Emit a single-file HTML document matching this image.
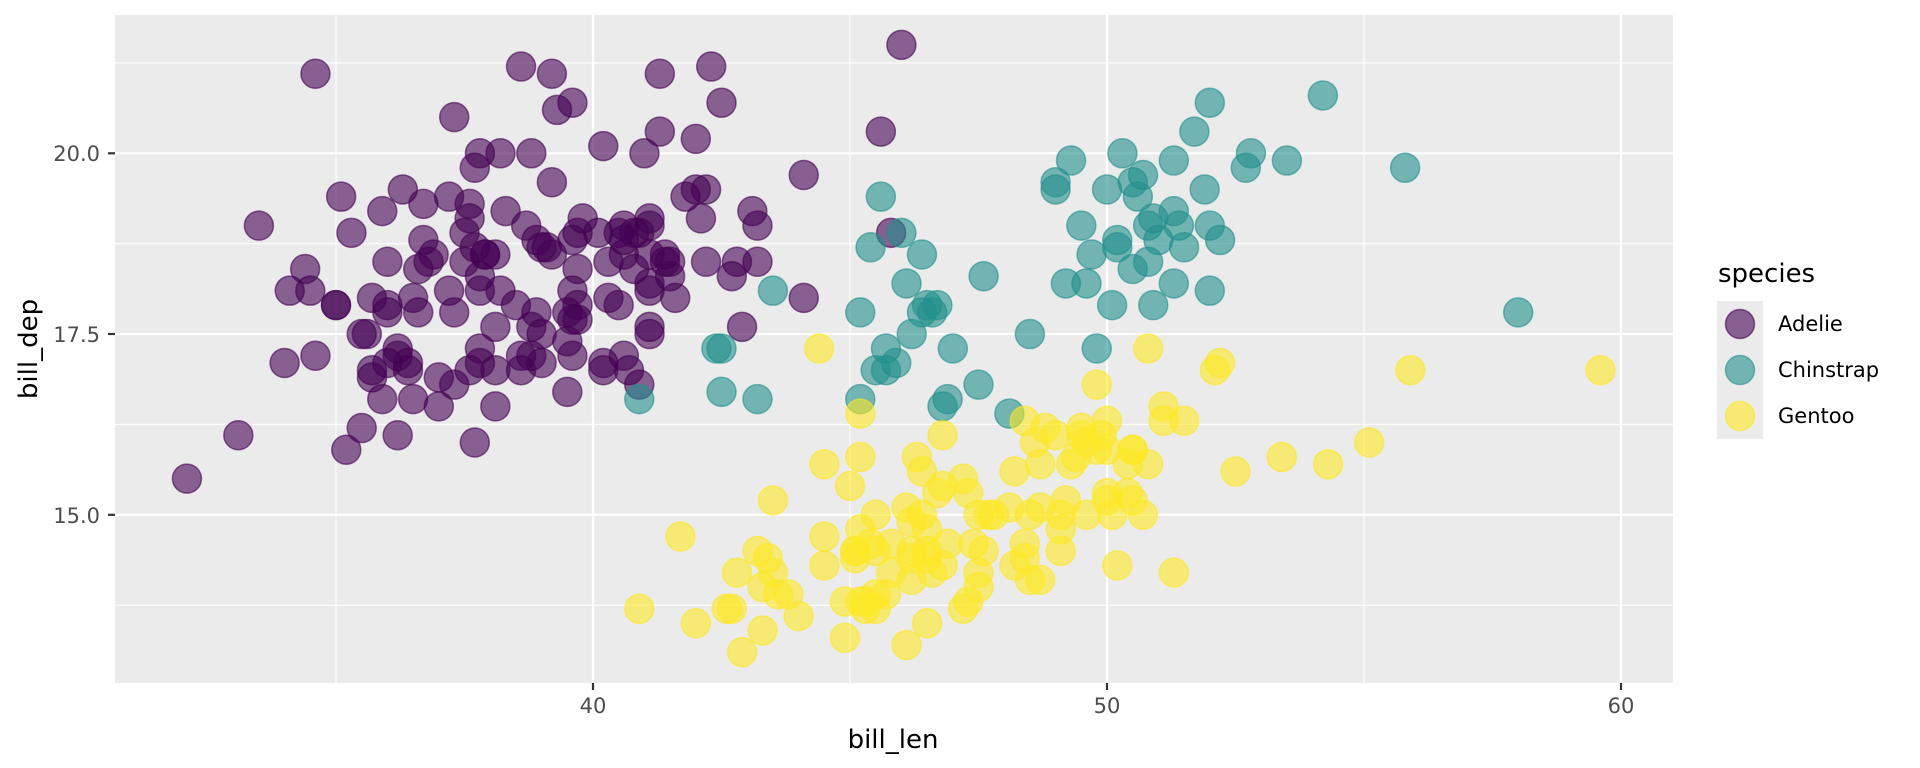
<!DOCTYPE html>
<html><head><meta charset="utf-8"><style>
html,body{margin:0;padding:0;background:#fff;}
svg{display:block;font-family:"DejaVu Sans","Liberation Sans",sans-serif;}
</style></head><body>
<svg id="s" width="1920" height="768" viewBox="0 0 1920 768" xmlns="http://www.w3.org/2000/svg">
<rect x="0" y="0" width="1920" height="768" fill="#fff"/>
<rect x="115" y="15" width="1558" height="668" fill="#ebebeb"/>
<g id="grid"></g>
<g id="pts"></g>
<g fill="#4d4d4d" font-size="21" text-anchor="end">
<text x="100" y="161">20.0</text>
<text x="100" y="342">17.5</text>
<text x="100" y="523">15.0</text>
</g>
<g stroke="#333" stroke-width="2.2">
<line x1="108" x2="115" y1="153.3" y2="153.3"/>
<line x1="108" x2="115" y1="334" y2="334"/>
<line x1="108" x2="115" y1="514.8" y2="514.8"/>
<line x1="593" x2="593" y1="683" y2="690"/>
<line x1="1107" x2="1107" y1="683" y2="690"/>
<line x1="1621" x2="1621" y1="683" y2="690"/>
</g>
<g fill="#4d4d4d" font-size="21" text-anchor="middle">
<text x="593" y="713">40</text>
<text x="1107" y="713">50</text>
<text x="1621" y="713">60</text>
</g>
<text x="893" y="748" font-size="26" text-anchor="middle" fill="#000">bill_len</text>
<text transform="translate(37,349) rotate(-90)" font-size="26" text-anchor="middle" fill="#000">bill_dep</text>
<text x="1718" y="282" font-size="26" fill="#000">species</text>
<rect x="1717" y="301" width="46" height="138" fill="#ebebeb"/>
<circle cx="1740" cy="324" r="14.5" fill="#440154" fill-opacity="0.6" stroke="#440154" stroke-opacity="0.6" stroke-width="1.5"/>
<circle cx="1740" cy="370" r="14.5" fill="#21908C" fill-opacity="0.6" stroke="#21908C" stroke-opacity="0.6" stroke-width="1.5"/>
<circle cx="1740" cy="416" r="14.5" fill="#FDE725" fill-opacity="0.6" stroke="#FDE725" stroke-opacity="0.6" stroke-width="1.5"/>
<g font-size="21" fill="#000">
<text x="1778" y="331">Adelie</text>
<text x="1778" y="377">Chinstrap</text>
<text x="1778" y="423">Gentoo</text>
</g>
</svg>
<script>
var NS="http://www.w3.org/2000/svg";
function px(x){return 593+(x-40)*51.4;}
function py(y){return 153.3-(y-20)*72.3;}
var g=document.getElementById("grid");
function line(x1,y1,x2,y2,w){var l=document.createElementNS(NS,"line");l.setAttribute("x1",x1);l.setAttribute("y1",y1);l.setAttribute("x2",x2);l.setAttribute("y2",y2);l.setAttribute("stroke","#fff");l.setAttribute("stroke-width",w);g.appendChild(l);}
[35,45,55].forEach(function(v){line(px(v),15,px(v),683,1.1);});
[13.75,16.25,18.75,21.25].forEach(function(v){line(115,py(v),1673,py(v),1.1);});
[40,50,60].forEach(function(v){line(px(v),15,px(v),683,2.2);});
[15,17.5,20].forEach(function(v){line(115,py(v),1673,py(v),2.2);});
var A="39.1 18.7 39.5 17.4 40.3 18.0 36.7 19.3 39.3 20.6 38.9 17.8 39.2 19.6 34.1 18.1 42.0 20.2 37.8 17.1 37.8 17.3 41.1 17.6 38.6 21.2 34.6 21.1 36.6 17.8 38.7 19.0 42.5 20.7 34.4 18.4 46.0 21.5 37.8 18.3 37.7 18.7 35.9 19.2 38.2 18.1 38.8 17.2 35.3 18.9 40.6 18.6 40.5 17.9 37.9 18.6 40.5 18.9 39.5 16.7 37.2 18.1 39.5 17.8 40.9 18.9 36.4 17.0 39.2 21.1 38.8 20.0 42.2 18.5 37.6 19.3 39.8 19.1 36.5 18.0 40.8 18.4 36.0 18.5 44.1 19.7 37.0 16.9 39.6 18.8 41.1 19.0 37.5 18.9 36.0 17.9 42.3 21.2 39.6 17.7 40.1 18.9 35.0 17.9 42.0 19.5 34.5 18.1 41.4 18.6 39.0 17.5 40.6 18.8 36.5 16.6 37.6 19.1 35.7 16.9 41.3 21.1 37.6 17.0 41.1 18.2 36.4 17.1 41.6 18.0 35.5 16.2 41.1 19.1 35.9 16.6 41.8 19.4 33.5 19.0 39.7 18.4 39.6 17.2 45.8 18.9 35.5 17.5 42.8 18.5 40.9 16.8 37.2 19.4 36.2 16.1 42.1 19.1 34.6 17.2 42.9 17.6 36.7 18.8 35.1 19.4 37.3 17.8 41.3 20.3 36.3 19.5 36.9 18.6 38.3 19.2 38.9 18.8 35.7 18.0 41.1 18.1 34.0 17.1 39.6 18.1 36.2 17.3 40.8 18.9 38.1 18.6 40.3 18.5 33.1 16.1 43.2 18.5 35.0 17.9 41.0 20.0 37.7 16.0 37.8 20.0 37.9 18.6 39.7 18.9 38.6 17.2 38.2 20.0 38.1 17.0 43.2 19.0 38.1 16.5 45.6 20.3 39.7 17.7 42.2 19.5 39.6 20.7 42.7 18.3 38.6 17.0 37.3 20.5 35.7 17.0 41.1 18.6 36.2 17.2 37.7 19.8 40.2 17.0 41.4 18.5 35.2 15.9 40.6 19.0 38.8 17.6 41.5 18.3 39.0 17.1 44.1 18.0 38.5 17.9 43.1 19.2 36.8 18.5 37.5 18.5 38.1 17.6 41.1 17.5 35.6 17.5 40.2 20.1 37.0 16.5 39.7 17.9 40.2 17.1 40.6 17.2 32.1 15.5 40.7 17.0 37.3 16.8 39.0 18.7 39.2 18.6 36.6 18.4 36.0 17.8 37.8 18.1 36.0 17.1 41.5 18.5";
var G="46.1 13.2 50.0 16.3 48.7 14.1 50.0 15.2 47.6 14.5 46.5 13.5 45.4 14.6 46.7 15.3 43.3 13.4 46.8 15.4 40.9 13.7 49.0 16.1 45.5 13.7 48.4 14.6 45.8 14.6 49.3 15.7 42.0 13.5 49.2 15.2 46.2 14.5 48.7 15.1 50.2 14.3 45.1 14.5 46.5 14.5 46.3 15.8 42.9 13.1 46.1 15.1 44.5 14.3 47.8 15.0 48.2 14.3 50.0 15.3 47.3 15.3 42.8 14.2 45.1 14.5 59.6 17.0 49.1 14.8 48.4 16.3 42.6 13.7 44.4 17.3 44.0 13.6 48.7 15.7 42.7 13.7 49.6 16.0 45.3 13.7 49.6 15.0 50.5 15.9 43.6 13.9 45.5 13.9 50.5 15.9 44.9 13.3 45.2 15.8 46.6 14.2 48.5 14.1 45.1 14.4 50.1 15.0 46.5 14.4 45.0 15.4 43.8 13.9 45.5 15.0 43.2 14.5 50.4 15.3 45.3 13.8 46.2 14.9 45.7 13.9 54.3 15.7 45.8 14.2 49.8 16.8 46.2 14.4 49.5 16.2 43.5 14.2 50.7 15.0 47.7 15.0 46.4 15.6 48.2 15.6 46.5 14.8 46.4 15.0 48.6 16.0 47.5 14.2 51.1 16.3 45.2 13.8 45.2 16.4 49.1 14.5 52.5 15.6 47.4 14.6 50.0 15.9 44.9 13.8 50.8 17.3 43.4 14.4 51.3 14.2 47.5 14.0 52.1 17.0 47.5 15.0 52.2 17.1 45.5 14.5 49.5 16.1 44.5 14.7 50.8 15.7 49.4 15.8 46.9 14.6 48.4 14.4 51.1 16.5 48.5 15.0 55.9 17.0 47.2 15.5 49.1 15.0 47.3 13.8 46.8 16.1 41.7 14.7 53.4 15.8 43.3 14.0 48.1 15.1 50.5 15.2 49.8 15.9 43.5 15.2 51.5 16.3 46.2 14.1 55.1 16.0 44.5 15.7 48.8 16.2 47.2 13.7 46.8 14.3 50.4 15.7 45.2 14.8 49.9 16.1";
var C="46.5 17.9 50.0 19.5 51.3 19.2 45.4 18.7 52.7 19.8 45.2 17.8 46.1 18.2 51.3 18.2 46.0 18.9 51.3 19.9 46.6 17.8 51.7 20.3 47.0 17.3 52.0 18.1 45.9 17.1 50.5 19.6 50.3 20.0 58.0 17.8 46.4 18.6 49.2 18.2 42.4 17.3 48.5 17.5 43.2 16.6 50.6 19.4 46.7 17.9 52.0 19.0 50.5 18.4 49.5 19.0 46.4 17.8 52.8 20.0 40.9 16.6 54.2 20.8 42.5 16.7 51.0 18.8 49.7 18.6 47.5 16.8 47.6 18.3 52.0 20.7 46.9 16.6 53.5 19.9 49.0 19.5 46.2 17.5 50.9 19.1 45.5 17.0 50.9 17.9 50.8 18.5 50.1 17.9 49.0 19.6 51.5 18.7 49.8 17.3 48.1 16.4 51.4 19.0 45.7 17.3 50.7 19.7 42.5 17.3 52.2 18.8 45.2 16.6 49.3 19.9 50.2 18.8 45.6 19.4 51.9 19.5 46.8 16.5 45.7 17.0 55.8 19.8 43.5 18.1 49.6 18.2 50.8 19.0 50.2 18.7";
var p=document.getElementById("pts");
function draw(s,col){var a=s.split(/\s+/).map(Number);for(var i=0;i<a.length;i+=2){var c=document.createElementNS(NS,"circle");c.setAttribute("cx",px(a[i]));c.setAttribute("cy",py(a[i+1]));c.setAttribute("r",14.5);c.setAttribute("fill",col);c.setAttribute("fill-opacity",0.6);c.setAttribute("stroke",col);c.setAttribute("stroke-opacity",0.6);c.setAttribute("stroke-width",1.5);p.appendChild(c);}}
draw(A,"#440154");draw(C,"#21908C");draw(G,"#FDE725");
</script>
</body></html>
